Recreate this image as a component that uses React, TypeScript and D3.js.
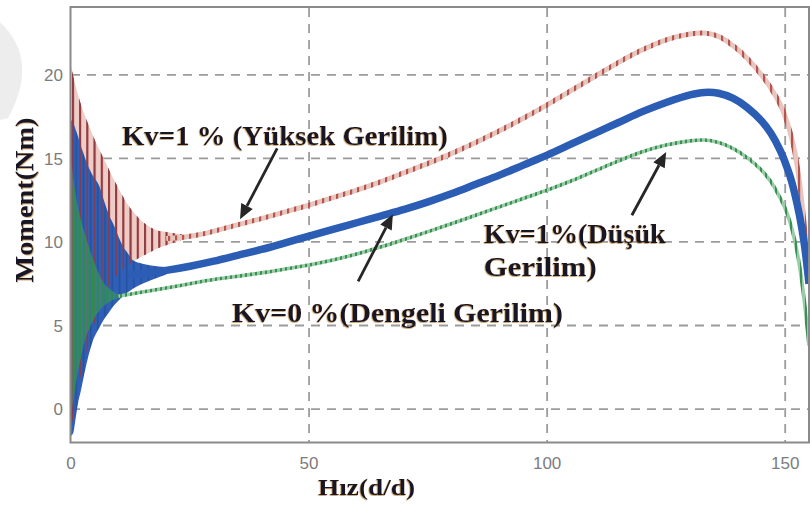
import React from "react";
import * as d3 from "d3";

// ---------- data ----------
const xTicks = [0, 50, 100, 150];
const yTicks = [0, 5, 10, 15, 20];

// start-up oscillation envelopes: [speed, upper, lower]
const redEnvelope: [number, number, number][] = [
  [0, 20.5, -1.2], [1, 19.3, 0.4], [2, 18.3, 1.9], [3, 17.5, 3.1], [4, 16.8, 4.2],
  [5, 16.1, 5.2], [6, 15.5, 6.0], [7, 14.9, 6.8], [8, 14.3, 7.4], [10, 13.2, 8.1],
  [12, 12.2, 8.6], [14, 11.5, 9.0], [16, 11.0, 9.3], [18, 10.7, 9.6], [20, 10.6, 9.8],
  [22, 10.5, 10.0], [24, 10.4, 10.2],
];
const blueEnvelope: [number, number, number][] = [
  [0, 17.3, -1.6], [0.5, 17.1, -1.4], [1, 16.7, -0.5], [1.5, 16.3, 0.4], [2, 15.8, 1.0],
  [2.5, 15.4, 1.7], [3.5, 14.6, 3.0], [4.5, 14.0, 4.0], [6, 13.3, 4.9], [7, 12.4, 5.4],
  [8, 11.6, 5.8], [9, 11.0, 6.2], [10, 10.3, 6.5], [11, 9.7, 6.8], [12, 9.3, 7.0],
  [13, 8.9, 7.2], [15, 8.7, 7.5], [18, 8.55, 7.85], [20, 8.5, 8.05],
];
const greenEnvelope: [number, number, number][] = [
  [0, 15.0, -0.3], [0.5, 13.8, 0.5], [1, 12.8, 1.5], [2, 11.4, 3.0], [3, 10.4, 4.2],
  [4, 9.5, 4.9], [5, 8.7, 5.5], [6, 8.0, 5.9], [7, 7.5, 6.2], [8, 7.2, 6.4],
  [9, 7.0, 6.55], [10, 6.85, 6.65], [11, 6.8, 6.7],
];

// steady curves: [speed, torque]
const redCurve: [number, number][] = [
  [20, 10.2], [24, 10.3], [28, 10.5], [32, 10.8], [36, 11.1], [40, 11.4], [45, 11.8],
  [50, 12.2], [55, 12.65], [60, 13.1], [65, 13.6], [70, 14.15], [75, 14.7], [80, 15.3],
  [85, 15.95], [90, 16.65], [95, 17.4], [100, 18.2], [105, 19.05], [110, 19.9], [115, 20.75],
  [120, 21.5], [125, 22.1], [130, 22.45], [133, 22.5], [136, 22.3], [139, 21.75], [142, 21.0],
  [145, 20.0], [147, 19.2], [149, 18.2], [150, 17.5], [151, 16.6], [152, 15.4], [153, 13.6],
  [154, 11.0], [155, 8.0],
];
const blueCurve: [number, number][] = [
  [12, 8.0], [15, 8.1], [20, 8.3], [25, 8.55], [30, 8.85], [35, 9.2], [40, 9.55], [45, 9.95],
  [50, 10.35], [55, 10.75], [60, 11.15], [65, 11.55], [70, 11.95], [75, 12.4], [80, 12.9],
  [85, 13.45], [90, 14.0], [95, 14.6], [100, 15.2], [105, 15.85], [110, 16.5], [115, 17.15],
  [120, 17.8], [125, 18.35], [130, 18.8], [133, 18.95], [136, 18.9], [139, 18.6], [142, 18.05],
  [145, 17.25], [147, 16.5], [149, 15.45], [150, 14.75], [151, 13.95], [152, 12.9], [153, 11.6],
  [154, 9.9], [155, 7.5],
];
const greenCurve: [number, number][] = [
  [10, 6.75], [15, 7.0], [20, 7.25], [25, 7.5], [30, 7.75], [35, 7.95], [40, 8.15],
  [45, 8.38], [50, 8.62], [55, 8.92], [60, 9.28], [65, 9.7], [70, 10.15], [75, 10.62],
  [80, 11.1], [85, 11.6], [90, 12.1], [95, 12.6], [100, 13.1], [105, 13.65], [110, 14.25],
  [115, 14.85], [120, 15.4], [125, 15.8], [130, 16.05], [133, 16.1], [136, 15.95],
  [139, 15.6], [142, 15.05], [145, 14.3], [147, 13.6], [149, 12.6], [150, 12.0],
  [151, 11.2], [152, 10.1], [153, 8.6], [154, 6.5], [155, 3.8],
];

// annotations (data coordinates)
const labels = [
  { lines: ["Kv=1 % (Yüksek Gerilim)"], x: 10.7, y: 15.8, widths: [326] },
  { lines: ["Kv=0 %(Dengeli Gerilim)"], x: 33.8, y: 5.24, widths: [331] },
  { lines: ["Kv=1%(Düşük", "Gerilim)"], x: 86.7, y: 9.92, widths: [182, 113] },
];
const arrows = [
  { from: [43.3, 15.6], to: [35.5, 11.36] },
  { from: [60.3, 7.64], to: [67.6, 11.66] },
  { from: [117.8, 11.6], to: [125.0, 15.38] },
];

// ---------- layout ----------
const W = 810, H = 507;
const left = 71, right = 809, top = 8, bottom = 442.5;

export default function App() {
  const x = d3.scaleLinear().domain([0, 155]).range([left, right]);
  const y = d3.scaleLinear().domain([-2, 24]).range([bottom, top]);

  const line = d3
    .line<[number, number]>()
    .x((d) => x(d[0]))
    .y((d) => y(d[1]))
    .curve(d3.curveCatmullRom.alpha(0.5));
  const area = d3
    .area<[number, number, number]>()
    .x((d) => x(d[0]))
    .y0((d) => y(d[2]))
    .y1((d) => y(d[1]))
    .curve(d3.curveMonotoneX);

  const arrowEls = arrows.map((a, i) => {
    const x1 = x(a.from[0]), y1 = y(a.from[1]);
    const x2 = x(a.to[0]), y2 = y(a.to[1]);
    const ang = Math.atan2(y2 - y1, x2 - x1);
    const hl = 15, hw = 6.5;
    const bx = x2 - hl * Math.cos(ang), by = y2 - hl * Math.sin(ang);
    const px = -Math.sin(ang) * hw, py = Math.cos(ang) * hw;
    return (
      <g key={i}>
        <line x1={x1} y1={y1} x2={bx} y2={by} stroke="#262626" strokeWidth={2.8} />
        <polygon points={`${x2},${y2} ${bx + px},${by + py} ${bx - px},${by - py}`} fill="#262626" />
      </g>
    );
  });

  return (
    <svg width={W} height={H} style={{ position: "absolute", left: 0, top: 0, background: "#fff" }}>
      <defs>
        <clipPath id="plot">
          <rect x={left} y={top} width={right - left} height={bottom - top} />
        </clipPath>
        <pattern id="redOsc" patternUnits="userSpaceOnUse" width={7.2} height={10}>
          <rect width={7.2} height={10} fill="#efcdc7" />
          <rect width={2} height={10} fill="#a5443c" />
        </pattern>
        <pattern id="redOscOver" patternUnits="userSpaceOnUse" width={7.2} height={10}>
          <rect width={1.8} height={10} fill="#8e3a44" opacity={0.85} />
        </pattern>
        <pattern id="blueOsc" patternUnits="userSpaceOnUse" width={7.2} height={10}>
          <rect width={7.2} height={10} fill="#2f5fb6" />
          <rect x={3.5} width={1.5} height={10} fill="#24519f" />
        </pattern>
        <pattern id="greenOsc" patternUnits="userSpaceOnUse" width={4.6} height={10}>
          <rect width={3} height={10} fill="#2f8f50" opacity={0.9} />
          <rect x={3} width={1.6} height={10} fill="#5aa872" opacity={0.4} />
        </pattern>
        <pattern id="redRipple" patternUnits="userSpaceOnUse" width={7} height={7}>
          <rect width={7} height={7} fill="#e8c6bf" />
          <rect width={2.2} height={7} fill="#b4554c" />
        </pattern>
        <pattern id="greenRipple" patternUnits="userSpaceOnUse" width={5} height={5}>
          <rect width={5} height={5} fill="#98cca5" />
          <rect width={2} height={5} fill="#3a8f55" />
        </pattern>
        <filter id="glow" x="-5%" y="-20%" width="110%" height="140%">
          <feDropShadow dx={-0.6} dy={0.8} stdDeviation={0.7} floodColor="#b07a2a" floodOpacity={0.8} />
        </filter>
      </defs>

      {/* faint watermark crescent */}
      <path d="M0,22 Q40,60 8,118 L0,120 Z" fill="#ededed" />

      {/* grid */}
      {yTicks.map((t) => (
        <line key={"gy" + t} x1={left} x2={right} y1={y(t)} y2={y(t)} stroke="#9c9c9c" strokeWidth={1.8} strokeDasharray="9,7" />
      ))}
      {xTicks.filter((t) => t > 0).map((t) => (
        <line key={"gx" + t} x1={x(t)} x2={x(t)} y1={top} y2={bottom} stroke="#9c9c9c" strokeWidth={1.8} strokeDasharray="9,7" />
      ))}

      <g clipPath="url(#plot)">
        {/* start-up oscillations */}
        <path d={area(redEnvelope) || ""} fill="url(#redOsc)" />
        <path d={area(blueEnvelope) || ""} fill="url(#blueOsc)" />
        <path d={area(redEnvelope) || ""} fill="url(#redOscOver)" />
        <path d={area(greenEnvelope) || ""} fill="url(#greenOsc)" />

        {/* steady curves */}
        <path d={line(redCurve) || ""} fill="none" stroke="url(#redRipple)" strokeWidth={5} />
        <path d={line(blueCurve) || ""} fill="none" stroke="#2c5db5" strokeWidth={7.5} />
        <path d={line(greenCurve) || ""} fill="none" stroke="url(#greenRipple)" strokeWidth={3.6} />
      </g>

      {/* frame */}
      <rect x={left - 0.5} y={top - 1} width={right - left + 0.5} height={bottom - top + 1} fill="none" stroke="#8a8a8a" strokeWidth={2} />

      {/* tick labels */}
      {yTicks.map((t) => (
        <text key={"ty" + t} x={63} y={y(t)} dy="0.36em" textAnchor="end" fontFamily="Liberation Sans, Arial, sans-serif" fontSize={17} fill="#7c7c7c">
          {t}
        </text>
      ))}
      {xTicks.map((t) => (
        <text key={"tx" + t} x={x(t)} y={463} dy="0.36em" textAnchor="middle" fontFamily="Liberation Sans, Arial, sans-serif" fontSize={17} fill="#7c7c7c">
          {t}
        </text>
      ))}

      {/* axis titles */}
      <text x={366.5} y={495} textAnchor="middle" fontFamily="Liberation Serif, Times New Roman, serif" fontWeight="bold" fontSize={24} fill="#141428" textLength={97} lengthAdjust="spacingAndGlyphs" filter="url(#glow)">
        Hız(d/d)
      </text>
      <text transform="translate(33,200) rotate(-90)" textAnchor="middle" fontFamily="Liberation Serif, Times New Roman, serif" fontWeight="bold" fontSize={26} fill="#141428" textLength={165} lengthAdjust="spacingAndGlyphs" filter="url(#glow)">
        Moment(Nm)
      </text>

      {/* annotations */}
      {labels.map((l, i) => (
        <g key={"lab" + i}>
          {l.lines.map((s, j) => (
            <text key={j} x={x(l.x)} y={y(l.y) + j * 33} fontFamily="Liberation Serif, Times New Roman, serif" fontWeight="bold" fontSize={27} fill="#141428" textLength={l.widths[j]} lengthAdjust="spacingAndGlyphs" filter="url(#glow)">
              {s}
            </text>
          ))}
        </g>
      ))}
      {arrowEls}
    </svg>
  );
}
